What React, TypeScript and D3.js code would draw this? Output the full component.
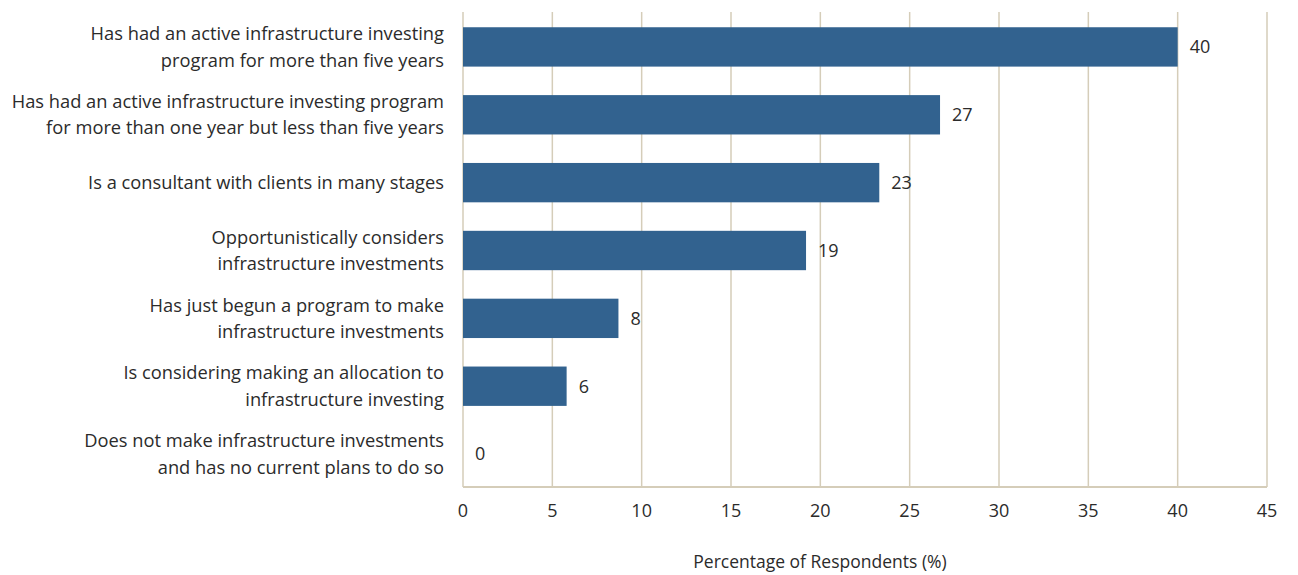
import React from "react";
import * as d3 from "d3";

const categories: string[][] = [
  ["Has had an active infrastructure investing", "program for more than five years"],
  ["Has had an active infrastructure investing program", "for more than one year but less than five years"],
  ["Is a consultant with clients in many stages"],
  ["Opportunistically considers", "infrastructure investments"],
  ["Has just begun a program to make", "infrastructure investments"],
  ["Is considering making an allocation to", "infrastructure investing"],
  ["Does not make infrastructure investments", "and has no current plans to do so"],
];
const values: number[] = [40, 26.7, 23.3, 19.2, 8.7, 5.8, 0];
const valueLabels: string[] = ["40", "27", "23", "19", "8", "6", "0"];
const xTicks: number[] = [0, 5, 10, 15, 20, 25, 30, 35, 40, 45];
const xTitle = "Percentage of Respondents (%)";

const W = 1298;
const H = 575;
const M = { left: 463, right: 1267, top: 12, bottom: 487 };
const FONT = "'Open Sans', 'Noto Sans', sans-serif";
const TEXT = "#2b2b2b";
const BAR = "#32628f";
const GRID = "#d5cdb9";

export default function App() {
  const x = d3.scaleLinear().domain([0, 45]).range([M.left, M.right]);
  const y = d3
    .scaleBand<number>()
    .domain(d3.range(categories.length))
    .range([M.top + 1, M.bottom + 1])
    .paddingInner(0.42)
    .paddingOuter(0.21);
  const step = y.step();
  return (
    <svg
      width={W}
      height={H}
      style={{ position: "absolute", left: 0, top: 0, background: "#fff" }}
      fontFamily={FONT}
    >
      {xTicks.map((t) => (
        <line key={"g" + t} x1={x(t)} x2={x(t)} y1={M.top} y2={M.bottom} stroke={GRID} strokeWidth={1.5} />
      ))}
      <line x1={M.left} x2={M.right} y1={M.bottom} y2={M.bottom} stroke={GRID} strokeWidth={2} />
      {values.map((v, i) => (
        <rect key={"b" + i} x={x(0)} y={y(i)!} width={x(v) - x(0)} height={y.bandwidth()} fill={BAR} />
      ))}
      {values.map((v, i) => (
        <text
          key={"v" + i}
          x={x(v) + 12}
          y={y(i)! + y.bandwidth() / 2}
          dy="0.35em"
          fontSize={18}
          fill={TEXT}
        >
          {valueLabels[i]}
        </text>
      ))}
      {categories.map((lines, i) => {
        const cy = y(i)! - (step - y.bandwidth()) / 2 + step / 2;
        const lh = 26.5;
        const y0 = cy - ((lines.length - 1) * lh) / 2;
        return (
          <text key={"c" + i} textAnchor="end" fontSize={18.3} fill={TEXT}>
            {lines.map((l, j) => (
              <tspan key={j} x={444} y={y0 + j * lh} dy="0.35em">
                {l}
              </tspan>
            ))}
          </text>
        );
      })}
      {xTicks.map((t) => (
        <text key={"t" + t} x={x(t)} y={511} dy="0.35em" textAnchor="middle" fontSize={18} fill={TEXT}>
          {t}
        </text>
      ))}
      <text x={820} y={562} dy="0.35em" textAnchor="middle" fontSize={17.5} fill={TEXT}>
        {xTitle}
      </text>
    </svg>
  );
}
